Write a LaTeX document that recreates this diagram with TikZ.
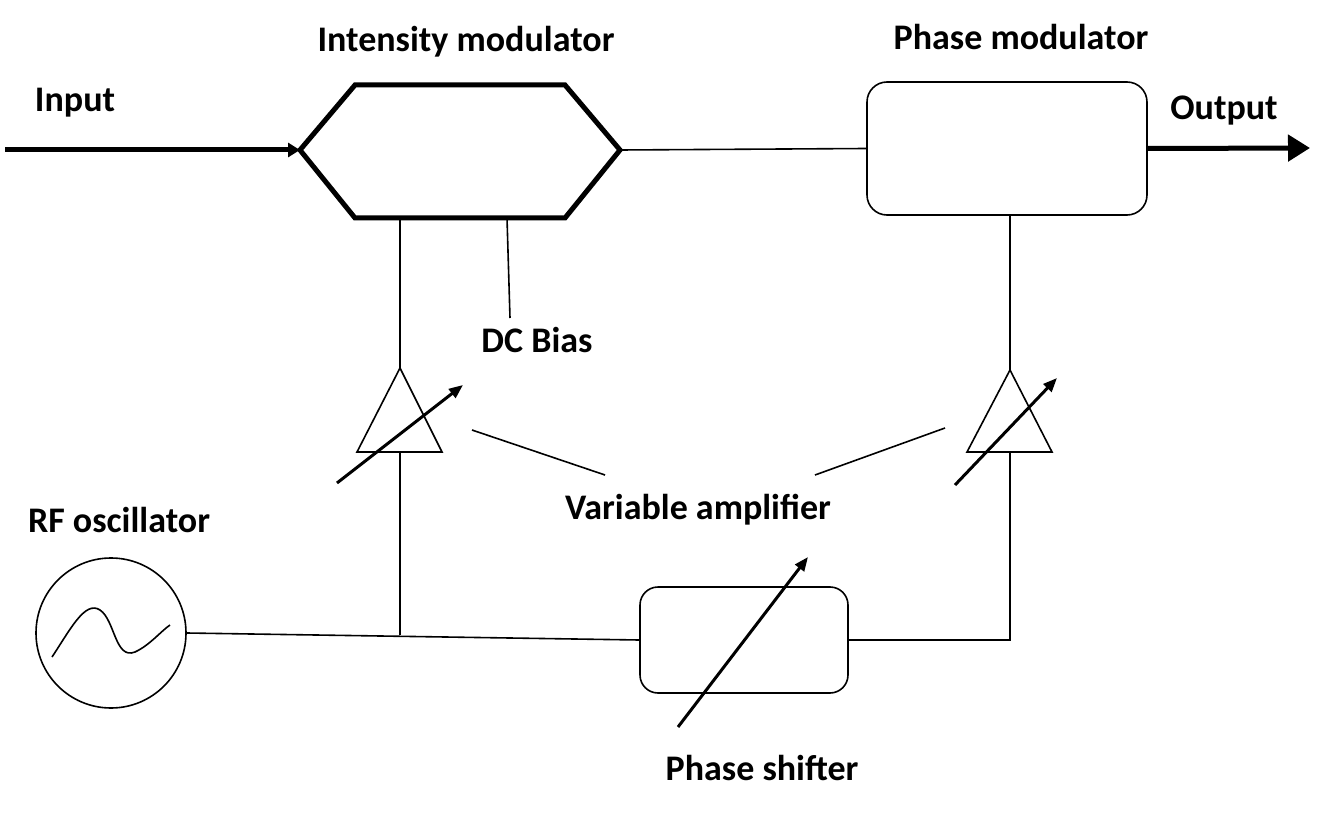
\documentclass[tikz,border=0pt]{standalone}
\usepackage{fontspec}
\setmainfont{Carlito}
\usetikzlibrary{arrows.meta}
\begin{document}
\begin{tikzpicture}[x=1pt,y=-1pt,
 lbl/.style={font=\bfseries\fontsize{36}{38}\selectfont},
 wire/.style={line width=1.6pt},
 amp/.style={line width=1.6pt},
 var/.style={line width=3pt,-{Triangle[length=14pt,width=11pt]}}]
\useasboundingbox (0,0) rectangle (1339,813);
% labels
\node[lbl] (tim) at (466,42) {Intensity modulator};
\node[lbl] (tpm) at (1021,37) {Phase modulator};
\node[lbl] (tin) at (75,103) {Input};
\node[lbl] (tout) at (1224,111) {Output};
\node[lbl] (tdc) at (537,340) {DC Bias};
\node[lbl] (tva) at (698,510) {Variable amplifier};
\node[lbl] (trf) at (119,520) {RF oscillator};
\node[lbl] (tps) at (762,768) {Phase shifter};
% input
\coordinate (in0) at (5,150);
\coordinate (h1) at (300,150);
\draw[line width=5pt,-{Triangle[length=12pt,width=14pt]}] (in0) -- (h1);
\draw[line width=5pt,line join=miter] (300,150) -- (355,85) -- (565,85) -- (620,150) -- (565,218) -- (355,218) -- cycle;
\coordinate (h2) at (620,150);
\node[draw,wire,rounded corners=20pt,minimum width=280pt,minimum height=133pt] (pm) at (1007,148.5) {};
\draw[wire] (h2) -- (pm.west);
\coordinate (out) at (1310,148);
\draw[line width=5pt,-{Triangle[length=22pt,width=26pt]}] (pm.east) -- (out);
% DC bias
\draw[wire] (507,218) -- (510,318);
% left amp
\draw[amp] (400,368) -- (357,452) -- (442,452) -- cycle;
\draw[wire] (400,218) -- (400,368);
\coordinate (j) at (400,635);
\draw[wire] (400,452) -- (j);
\draw[var] (337,483) -- (463,385);
% right amp
\draw[amp] (1010,370) -- (967,452) -- (1052,452) -- cycle;
\draw[wire] (pm.south -| 1010,0) -- (1010,370);
\draw[var] (955,485) -- (1057,378);
% label lines
\draw[wire] (472,430) -- (605,475);
\draw[wire] (815,475) -- (945,428);
% RF oscillator
\node[draw,wire,circle,minimum size=150pt] (rf) at (111,633) {};
\draw[wire] (52,657) .. controls (70,630) and (85,600) .. (100,610) .. controls (115,620) and (115,660) .. (135,652) .. controls (150,645) and (160,632) .. (170,625);
% phase shifter
\node[draw,wire,rounded corners=18pt,minimum width=208pt,minimum height=106pt] (ps) at (744,640) {};
\draw[wire] (rf.east) -- (ps.west);
\draw[wire] (ps.east) -- (1010,640) -- (1010,452);
\draw[var] (678,727) -- (808,557);
\end{tikzpicture}
\end{document}
